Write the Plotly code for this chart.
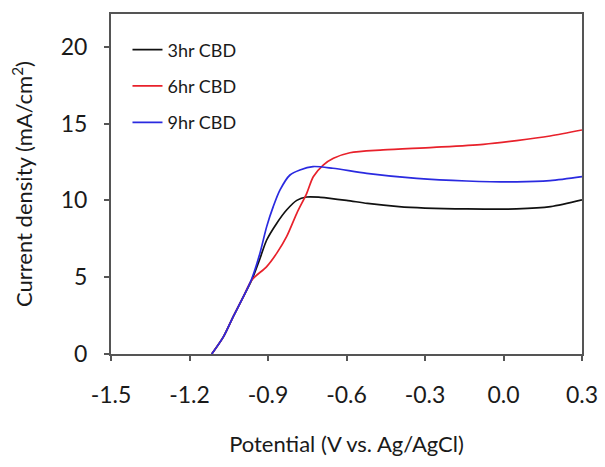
import plotly.graph_objects as go

# Data
x_3hr = [-1.115, -1.07, -1.033, -0.994, -0.962, -0.931, -0.905, -0.867, -0.829, -0.79, -0.752,
         -0.70, -0.60, -0.52, -0.40, -0.30, -0.14, 0.05, 0.18, 0.30]
y_3hr = [0, 1.13, 2.43, 3.73, 4.82, 6.2, 7.42, 8.5, 9.37, 10.0, 10.22,
         10.2, 10.0, 9.8, 9.59, 9.5, 9.44, 9.44, 9.59, 10.03]

x_6hr = [-1.115, -1.07, -1.033, -0.994, -0.962, -0.905, -0.867, -0.829, -0.79, -0.752, -0.727,
         -0.689, -0.65, -0.587, -0.46, -0.268, -0.077, 0.05, 0.178, 0.30]
y_6hr = [0, 1.13, 2.43, 3.73, 4.82, 5.69, 6.55, 7.64, 9.16, 10.46, 11.54,
         12.3, 12.74, 13.1, 13.28, 13.45, 13.65, 13.89, 14.19, 14.58]

x_9hr = [-1.115, -1.07, -1.033, -0.994, -0.962, -0.931, -0.905, -0.88, -0.854, -0.816, -0.778,
         -0.728, -0.652, -0.523, -0.332, -0.141, 0.05, 0.178, 0.30]
y_9hr = [0, 1.13, 2.43, 3.73, 4.9, 6.55, 8.29, 9.59, 10.68, 11.65, 11.98,
         12.2, 12.09, 11.76, 11.43, 11.26, 11.2, 11.28, 11.54]

series_names = ["3hr CBD", "6hr CBD", "9hr CBD"]
x_tick_vals = [-1.5, -1.2, -0.9, -0.6, -0.3, 0.0, 0.3]
x_tick_text = ["-1.5", "-1.2", "-0.9", "-0.6", "-0.3", "0.0", "0.3"]
y_tick_vals = [0, 5, 10, 15, 20]

colors = ["#111111", "#e8212b", "#2a2ae0"]

fig = go.Figure()
for i, (xs, ys) in enumerate([(x_3hr, y_3hr), (x_6hr, y_6hr), (x_9hr, y_9hr)]):
    fig.add_trace(go.Scatter(
        x=xs, y=ys, mode="lines", name=series_names[i],
        legendgroup=series_names[i],
        line=dict(color=colors[i], width=1.7, shape="spline", smoothing=0.8),
    ))

axis_common = dict(
    showline=True, linecolor="#555555", linewidth=2, mirror=True,
    ticks="outside", ticklen=5, tickwidth=1.5, tickcolor="#555555",
    showgrid=False, zeroline=False, automargin=False,
    tickfont=dict(family="Lato", size=23, color="#1a1a1a"),
)

fig.update_layout(
    width=605, height=467,
    margin=dict(l=111, r=23, t=14, b=113),
    paper_bgcolor="white", plot_bgcolor="white",
    font=dict(family="Lato", color="#1a1a1a"),
    xaxis=dict(range=[-1.5, 0.3], tickvals=x_tick_vals, ticktext=x_tick_text,
               ticklabelstandoff=14,
               title=dict(text="Potential (V vs. Ag/AgCl)", font=dict(size=22), standoff=30),
               **axis_common),
    yaxis=dict(range=[0, 22.13], tickvals=y_tick_vals, ticklabelstandoff=12,
               title=dict(text="Current density (mA/cm<sup>2</sup>)", font=dict(size=22), standoff=22),
               **axis_common),
    legend=dict(x=0.035, y=0.949, xanchor="left", yanchor="top",
                bgcolor="rgba(0,0,0,0)", font=dict(family="Lato", size=18, color="#1a1a1a"),
                tracegroupgap=10, traceorder="grouped"),
    showlegend=True,
)

fig.write_html("out.html", config={"displayModeBar": False},
               post_script="document.body.style.margin='0';")
